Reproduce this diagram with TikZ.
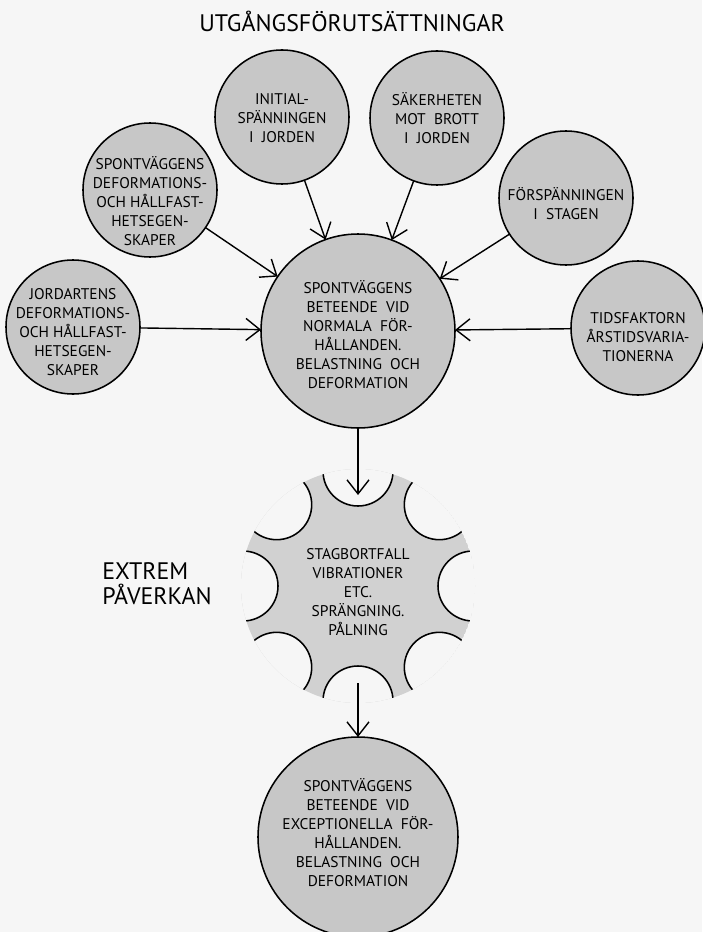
\documentclass[tikz,border=0pt]{standalone}
\usepackage{fontspec}
\setmainfont{PT Sans}
\usepackage{xcolor}
\usepackage{tikz}
\usetikzlibrary{shapes,arrows.meta,calc,positioning}

\definecolor{paper}{gray}{0.965}
\definecolor{disk}{gray}{0.78}
\definecolor{starfill}{gray}{0.82}

\begin{document}
\begin{tikzpicture}[
  bubble/.style={circle, draw=black, fill=disk, line width=1.1pt, minimum size=3.35cm, inner sep=0pt, outer sep=0pt},
  bigbubble/.style={bubble, minimum size=4.85cm},
  txt/.style={align=center, font=\fontsize{11}{13.5}\selectfont},
  heading/.style={align=left, inner sep=0pt, font=\fontsize{17}{17.7}\selectfont},
  arrow/.style={-{Straight Barb[length=3.5mm, width=5.5mm]}, line width=1pt}
]

\path[use as bounding box, fill=paper] (0,0) rectangle (17.55,-23.3);

% Title
\node[heading] (title) at (8.8,-0.525) {UTGÅNGSFÖRUTSÄTTNINGAR};

% Starting conditions
\node[bubble] (initial) at (7.05,-2.925) {};
\node[txt] (initialtext) at (7.05,-2.95) {INITIAL-\\SPÄNNINGEN\\I\ \ JORDEN};

\node[bubble] (safety) at (10.925,-2.95) {};
\node[txt] (safetytext) at (10.925,-2.95) {SÄKERHETEN\\MOT\ \ BROTT\\I\ \ JORDEN};

\node[bubble] (wallprop) at (3.75,-4.75) {};
\node[txt] (wallproptext) at (3.75,-5.025) {SPONTVÄGGENS\\DEFORMATIONS-\\OCH HÅLLFAST-\\HETSEGEN-\\SKAPER};

\node[bubble] (soilprop) at (1.825,-8.175) {};
\node[txt] (soilproptext) at (1.825,-8.3) {JORDARTENS\\DEFORMATIONS-\\OCH HÅLLFAST-\\HETSEGEN-\\SKAPER};

\node[bubble] (prestress) at (14.15,-4.95) {};
\node[txt] (prestresstext) at (14.15,-5.1) {FÖRSPÄNNINGEN\\I\ \ STAGEN};

\node[bubble] (timefactor) at (15.95,-8.2) {};
\node[txt] (timefactortext) at (15.95,-8.425) {TIDSFAKTORN\\ÅRSTIDSVARIA-\\TIONERNA};

% Normal behaviour
\node[bigbubble] (main) at (8.95,-8.275) {};
\node[txt] (maintext) at (8.95,-8.375) {SPONTVÄGGENS\\BETEENDE\ \ VID\\NORMALA\ \ FÖR-\\HÅLLANDEN.\\BELASTNING\ \ OCH\\DEFORMATION};

% Extreme influence
\node[circle, minimum size=5.75cm, inner sep=0pt, outer sep=0pt] (hazard) at (8.95,-14.65) {};
\begin{scope}
  \clip (hazard.center) circle (2.925);
  \fill[starfill] (hazard.center) circle (2.925);
  \foreach \ang in {0,45,...,315}
    \filldraw[fill=paper, line width=1.1pt] (hazard.\ang) circle (0.875);
\end{scope}
\node[txt] (hazardtext) at (8.95,-14.8) {STAGBORTFALL\\VIBRATIONER\\ETC.\\SPRÄNGNING.\\PÅLNING};
\coordinate (hazardin) at ([yshift=2.275cm]hazard.center);
\coordinate (hazardout) at ([yshift=-2.425cm]hazard.center);

\node[heading, anchor=west] (extreme) at (2.55,-14.59) {EXTREM\\PÅVERKAN};

% Exceptional behaviour
\node[bubble, minimum size=5cm] (exceptional) at (8.95,-20.925) {};
\node[txt] (exceptionaltext) at (8.95,-20.825) {SPONTVÄGGENS\\BETEENDE\ \ VID\\EXCEPTIONELLA\ \ FÖR-\\HÅLLANDEN.\\BELASTNING\ \ OCH\\DEFORMATION};

% Connections
\draw[arrow] (initial) -- (main);
\draw[arrow] (safety) -- (main);
\draw[arrow] (wallprop) -- (main);
\draw[arrow] (soilprop) -- (main);
\draw[arrow] (prestress) -- (main);
\draw[arrow] (timefactor) -- (main);
\draw[arrow] (main) -- (hazardin);
\draw[arrow] (hazardout) -- (exceptional);

\end{tikzpicture}
\end{document}
